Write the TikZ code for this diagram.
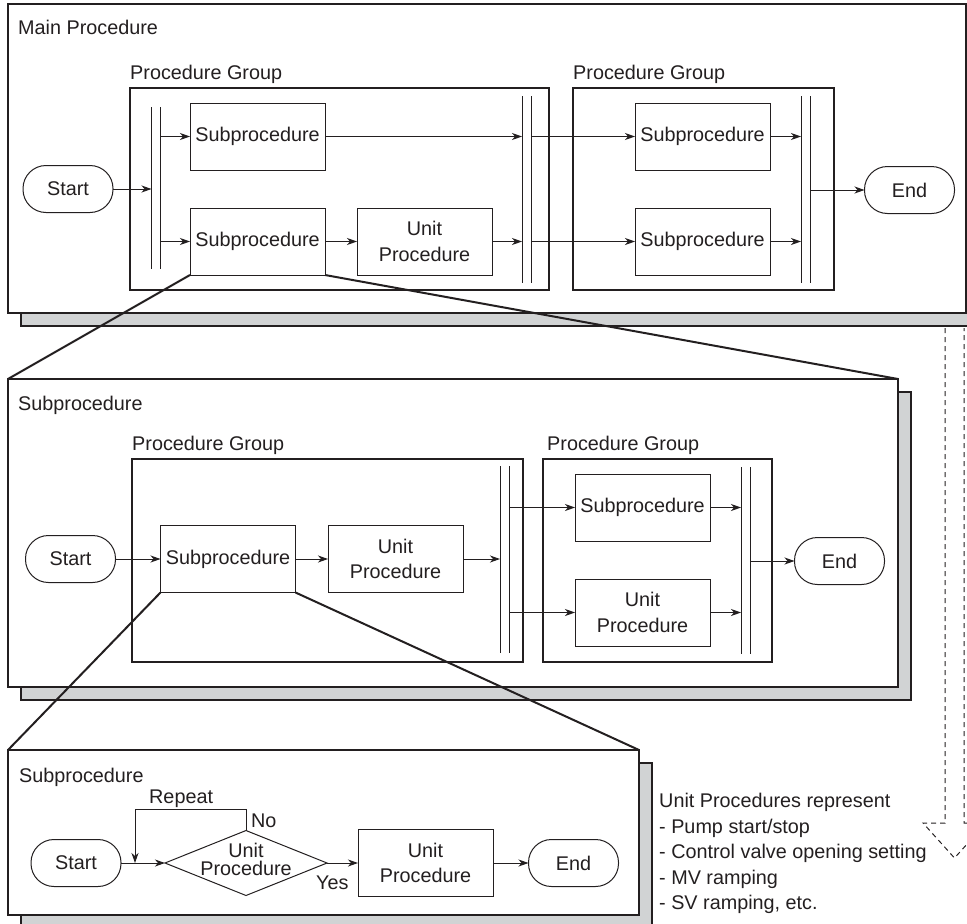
\documentclass[tikz,border=0pt]{standalone}
\usepackage{fontspec}
\setmainfont{Liberation Sans}
\usepackage{tikz}
\usetikzlibrary{arrows.meta}
\usetikzlibrary{shapes.geometric}
\usetikzlibrary{shadows}
\definecolor{linec}{RGB}{35,31,32}
\definecolor{shadowgray}{RGB}{209,211,212}

\begin{document}
\begin{tikzpicture}[x=1pt, y=-1pt, color=linec, font=\fontsize{19.8}{25.5}\selectfont,
	pbox/.style={draw, line width=1.2pt, fill=white, inner sep=0, outer sep=0, general shadow={shadow xshift=13pt, shadow yshift=-13pt, fill=shadowgray, draw=linec, line width=1.2pt}},
	grp/.style={draw, line width=2.5pt, inner sep=0, outer sep=0},
	sbox/.style={draw, line width=1pt, minimum width=135pt, minimum height=67pt, inner sep=0, outer sep=0, align=center},
	term/.style={draw, line width=1pt, rounded corners=23pt, minimum width=90pt, minimum height=47pt, inner sep=0, outer sep=0},
	dbar/.style={minimum width=9pt, inner sep=0, outer sep=0},
	arr/.style={-{Stealth[length=10pt, width=7pt, inset=3pt]}, line width=1pt},
	zline/.style={line width=2pt},
	ptitle/.style={anchor=north west, inner sep=0},
	gtitle/.style={anchor=south west, inner sep=0}]

		\useasboundingbox (0,0) rectangle (967,924);
		\clip (0,0) rectangle (967,924);

		\node[pbox, minimum width=958pt, minimum height=309pt] (p1) at (487,158.5) {};
		\node[ptitle] (t1) at ([xshift=10pt,yshift=-16pt]p1.north west) {Main Procedure};

		\node[grp, minimum width=419pt, minimum height=202pt] (g1) at (339.5,189) {};
		\node[gtitle] (gt1) at ([yshift=4pt]g1.north west) {Procedure Group};
		\node[grp, minimum width=261pt, minimum height=202pt] (g2) at (703.5,189) {};
		\node[gtitle] (gt2) at ([yshift=4pt]g2.north west) {Procedure Group};

		\node[term] (s1) at (68,189) {Start};
		\node[dbar, minimum height=162pt] (ba) at (156,188) {};
		\node[sbox] (sp1) at (257.5,136.5) {Subprocedure};
		\node[sbox] (sp2) at (257.5,241.5) {Subprocedure};
		\node[sbox] (up1) at (424.5,241.5) {Unit\\Procedure};
		\node[dbar, minimum height=187pt] (bb) at (526.5,189.5) {};
		\node[sbox] (sp3) at (702.5,136.5) {Subprocedure};
		\node[sbox] (sp4) at (702.5,241.5) {Subprocedure};
		\node[dbar, minimum height=187pt] (bc) at (805.5,189.5) {};
		\node[term] (e1) at (909.5,190) {End};

		\draw[line width=1pt] (ba.north west) -- (ba.south west) (ba.north east) -- (ba.south east);
		\draw[line width=1pt] (bb.north west) -- (bb.south west) (bb.north east) -- (bb.south east);
		\draw[line width=1pt] (bc.north west) -- (bc.south west) (bc.north east) -- (bc.south east);

		\draw[arr] (s1.east) -- (ba.west |- s1);
		\draw[arr] (ba.east |- sp1) -- (sp1.west);
		\draw[arr] (ba.east |- sp2) -- (sp2.west);
		\draw[arr] (sp2.east) -- (up1.west);
		\draw[arr] (sp1.east) -- (bb.west |- sp1);
		\draw[arr] (up1.east) -- (bb.west |- up1);
		\draw[arr] (bb.east |- sp3) -- (sp3.west);
		\draw[arr] (bb.east |- sp4) -- (sp4.west);
		\draw[arr] (sp3.east) -- (bc.west |- sp3);
		\draw[arr] (sp4.east) -- (bc.west |- sp4);
		\draw[arr] (bc.east |- e1) -- (e1.west);

		\node[pbox, minimum width=890pt, minimum height=308pt] (p2) at (453,533) {};
		\node[ptitle] (t2) at ([xshift=10pt,yshift=-17pt]p2.north west) {Subprocedure};

		\node[grp, minimum width=391pt, minimum height=203pt] (g3) at (327.5,560.5) {};
		\node[gtitle] (gt3) at ([yshift=4pt]g3.north west) {Procedure Group};
		\node[grp, minimum width=229pt, minimum height=203pt] (g4) at (657.5,560.5) {};
		\node[gtitle] (gt4) at ([xshift=4pt,yshift=4pt]g4.north west) {Procedure Group};

		\node[term] (s2) at (70.5,559) {Start};
		\node[sbox] (sp5) at (228,559) {Subprocedure};
		\node[sbox] (up2) at (395.5,559) {Unit\\Procedure};
		\node[dbar, minimum height=187pt] (bd) at (504.5,559.5) {};
		\node[sbox] (sp6) at (642.5,507.5) {Subprocedure};
		\node[sbox] (up3) at (642.5,612.5) {Unit\\Procedure};
		\node[dbar, minimum height=187pt] (be) at (745.5,560.5) {};
		\node[term] (e2) at (839.5,561) {End};

		\draw[line width=1pt] (bd.north west) -- (bd.south west) (bd.north east) -- (bd.south east);
		\draw[line width=1pt] (be.north west) -- (be.south west) (be.north east) -- (be.south east);

		\draw[arr] (s2.east) -- (sp5.west);
		\draw[arr] (sp5.east) -- (up2.west);
		\draw[arr] (up2.east) -- (bd.west |- up2);
		\draw[arr] (bd.east |- sp6) -- (sp6.west);
		\draw[arr] (bd.east |- up3) -- (up3.west);
		\draw[arr] (sp6.east) -- (be.west |- sp6);
		\draw[arr] (up3.east) -- (be.west |- up3);
		\draw[arr] (be.east |- e2) -- (e2.west);

		\node[pbox, minimum width=631pt, minimum height=165pt] (p3) at (323.5,832.5) {};
		\node[ptitle] (t3) at ([xshift=11pt,yshift=-18pt]p3.north west) {Subprocedure};

		\node[term] (s3) at (76,863) {Start};
		\node[draw, diamond, line width=1pt, minimum width=162pt, minimum height=65pt, inner sep=0, outer sep=0, label={[align=center, font=\fontsize{19.8}{18}\selectfont, yshift=4pt]center:Unit\\Procedure}] (dec) at (246,863) {};
		\node[sbox] (up4) at (425.5,863) {Unit\\Procedure};
		\node[term] (e3) at (573.5,863) {End};
		\coordinate (rp) at (135,809);

		\draw[arr] (s3.east) -- (dec.west);
		\draw[arr] (dec.east) -- (up4.west);
		\draw[arr] (up4.east) -- (e3.west);
		\draw[arr] (dec.north) |- (rp) -- (rp |- dec);
		\node[gtitle] (rep) at (149,808) {Repeat};
		\node[gtitle] (no) at ([xshift=5pt,yshift=3pt]dec.north) {No};
		\node[ptitle] (yes) at ([xshift=-11pt,yshift=-13pt]dec.east) {Yes};

		\draw[zline] (sp2.south west) -- (p2.north west);
		\draw[zline] (sp2.south east) -- (p2.north east);
		\draw[zline] (sp5.south west) -- (p3.north west);
		\draw[zline] (sp5.south east) -- (p3.north east);

		\draw[line width=1pt, dash pattern=on 5pt off 4pt] (945,328) -- (945,823) -- (923,823) -- (954.5,858) -- (986,823) -- (964,823) -- (964,328);

		\node[ptitle, align=left] (note) at (659,793) {Unit Procedures represent\\- Pump start/stop\\- Control valve opening setting\\- MV ramping\\- SV ramping, etc.};
	\end{tikzpicture}
\end{document}
